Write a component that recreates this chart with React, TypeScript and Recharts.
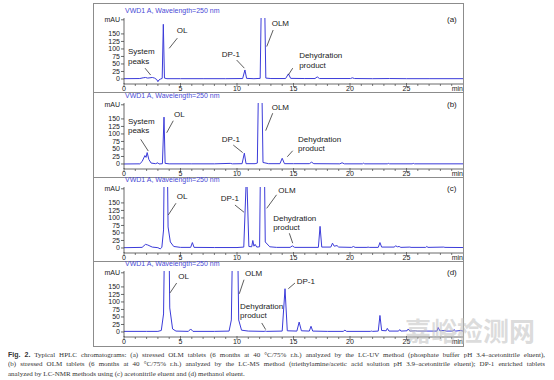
import React from 'react';
import { LineChart, Line, XAxis, YAxis, ReferenceLine, ReferenceDot } from 'recharts';

// ---- data: [retention time (min), signal (mAU)] ----
const traceA: [number, number][] = [
  [0, 1], [1.4, 1.5], [1.7, 4], [1.9, 5], [2.1, 3], [2.3, 4], [2.5, 5], [2.7, 3], [2.9, -2], [3.0, -9], [3.1, -3],
  [3.25, 0], [3.38, 2], [3.48, 182], [3.58, 3], [3.8, 1], [5, 1], [7, 1], [9, 1], [10.5, 1.5], [10.7, 30], [10.85, 2],
  [11.5, 1], [12.05, 2], [12.3, 620], [12.55, 3], [13, 1.5], [14.3, 1.5], [14.55, 17], [14.75, 2], [16, 1.5],
  [16.9, 1.5], [17.1, 7], [17.3, 1.5], [20.05, 1.5], [20.2, 4], [20.4, 1.5], [22, 1], [23.5, 1.5], [25, 1], [27, 1], [30, 1],
];
const traceB: [number, number][] = [
  [0, 0], [1.4, 0.5], [1.6, 8], [1.85, 28], [1.95, 22], [2.05, 38], [2.2, 15], [2.4, 3], [2.8, 1], [3.0, 4], [3.1, 0],
  [3.4, 1], [3.54, 156], [3.64, 2], [4, 0.5], [6, 0.5], [8, 0.5], [9.4, 2], [9.6, 0.5], [10.45, 1], [10.65, 36],
  [10.8, 1], [11.6, 1], [11.8, 3], [12.05, 650], [12.3, 5], [12.8, 1], [13.8, 1], [14.0, 19], [14.2, 1], [15, 1],
  [16.4, 1], [16.6, 6], [16.8, 1], [19.1, 0.5], [19.3, 4], [19.5, 0.5], [21.1, 0.5], [21.2, 2.5], [21.3, 0.5],
  [23.3, 0.5], [23.4, 2], [23.5, 0.5], [25.5, 0.5], [25.6, 2], [25.7, 0.5], [30, 0.5],
];
const traceC: [number, number][] = [
  [0, 1], [1.6, 2], [1.9, 12], [2.1, 10], [2.5, 3], [3.0, 1], [3.2, -3], [3.35, 2], [3.5, 60], [3.7, 800], [3.9, 70],
  [4.1, 20], [4.4, 5], [5, 2], [5.9, 2], [6.05, 18], [6.2, 2], [8, 1.5], [10, 1.5], [10.6, 3], [10.85, 260], [11.05, 5],
  [11.3, 4], [11.4, 25], [11.5, 6], [11.6, 12], [11.75, 3], [12.0, 4], [12.25, 900], [12.5, 20], [12.9, 4], [13.5, 2],
  [14.7, 2], [14.9, 7], [15.1, 2], [17.2, 2], [17.35, 72], [17.5, 3], [18.3, 3], [18.45, 16], [18.6, 6], [18.85, 8],
  [19.0, 3], [20.15, 2], [20.3, 5], [20.45, 2], [21.5, 2], [21.6, 3], [21.7, 2], [22.5, 2], [22.65, 18], [22.8, 3],
  [23.9, 3], [24.05, 7], [24.2, 4], [24.35, 5], [24.5, 2], [25.3, 3], [25.4, 2], [26.7, 2], [26.8, 5], [26.9, 2],
  [28.3, 3], [28.4, 2], [30, 1.5],
];
const traceD: [number, number][] = [
  [0, 2], [2, 2], [3.0, 2], [3.3, 5], [3.5, 60], [3.8, 900], [4.05, 80], [4.3, 10], [4.6, 3], [5.7, 2], [5.9, 10],
  [6.1, 2], [8, 2], [9.3, 3], [9.5, 40], [9.85, 900], [10.15, 40], [10.4, 6], [11, 3], [12.4, 2], [12.5, 3], [12.6, 2],
  [14.0, 3], [14.25, 144], [14.45, 4], [15.3, 3], [15.5, 33], [15.7, 4], [16.4, 3], [16.55, 19], [16.7, 3], [18, 2],
  [19.4, 2], [19.55, 6], [19.7, 2], [21.8, 2], [21.9, 3], [22, 2], [22.5, 3], [22.65, 55], [22.8, 5], [23.2, 4],
  [23.3, 12], [23.45, 3], [24.3, 3], [24.4, 8], [24.5, 3], [25.05, 4], [25.15, 10], [25.3, 3], [25.8, 4], [25.95, 3],
  [27.7, 3], [27.8, 15], [27.95, 4], [28.4, 5], [28.5, 3], [29.1, 3], [29.2, 8], [29.35, 3], [29.8, 5], [30, 3],
];

const xTicks = [0,1,2,3,4,5,6,7,8,9,10,11,12,13,14,15,16,17,18,19,20,21,22,23,24,25,26,27,28,29,30];
const yTicks = [0, 25, 50, 75, 100, 125, 150, 197];
const panelLetters = ['(a)', '(b)', '(c)', '(d)'];
const detectorTitle = 'VWD1 A, Wavelength=250 nm';

// annotation texts: [text, t, mAU]
const textsA: [string, number, number][] = [
  ['System', 0.35, 91], ['peaks', 0.35, 60], ['OL', 4.66, 163], ['DP-1', 8.65, 82], ['OLM', 13.07, 186],
  ['Dehydration', 15.5, 80], ['product', 15.5, 47],
];
const textsB: [string, number, number][] = [
  ['System', 0.35, 141], ['peaks', 0.35, 111], ['OL', 4.42, 167], ['DP-1', 8.65, 82], ['OLM', 13.07, 189],
  ['Dehydration', 15.4, 82], ['product', 15.4, 52],
];
const textsC: [string, number, number][] = [
  ['OL', 4.66, 171], ['DP-1', 8.56, 166], ['OLM', 13.65, 193], ['Dehydration', 13.2, 99], ['product', 13.2, 69],
];
const textsD: [string, number, number][] = [
  ['OL', 4.8, 186], ['OLM', 10.7, 197], ['DP-1', 15.28, 169], ['Dehydration', 10.27, 86], ['product', 10.27, 56],
];
// leader lines: [t1, v1, t2, v2]
const leadersA: [number, number, number, number][] = [
  [1.86, 36, 2.36, 13], [4.72, 136, 4.0, 102], [9.97, 63, 10.65, 36], [13.2, 163, 12.63, 108], [14.93, 36, 14.54, 13],
];
const leadersB: [number, number, number, number][] = [
  [1.48, 82, 2.15, 43], [4.36, 144, 3.78, 104], [9.67, 63, 10.5, 38], [13.16, 169, 12.54, 111], [14.93, 44, 14.45, 24],
];
const leadersC: [number, number, number, number][] = [
  [4.6, 149, 3.92, 110], [9.82, 143, 10.62, 119], [13.5, 177, 12.63, 132], [14.63, 49, 14.93, 16],
];
const leadersD: [number, number, number, number][] = [
  [4.66, 163, 4.07, 130], [10.62, 174, 10.2, 127], [15.13, 163, 14.54, 144], [12.19, 30, 12.54, 8],
];

const panels = [
  { trace: traceA, texts: textsA, leaders: leadersA },
  { trace: traceB, texts: textsB, leaders: leadersB },
  { trace: traceC, texts: textsC, leaders: leadersC },
  { trace: traceD, texts: textsD, leaders: leadersD },
];
const panelTops = [3, 88, 172, 256];

const AXIS = '#444';
const LINE = '#3b3bd9';
const SANS = '"Liberation Sans", Arial, sans-serif';

const XTick = (props: any) => {
  const { x, y, payload } = props;
  const v = payload.value;
  const major = v % 5 === 0;
  let label = '';
  if (v === 30) label = 'min';
  else if (major) label = String(v);
  return (
    <g>
      {v !== 30 && <line x1={x} y1={y - (major ? 1 : 0)} x2={x} y2={y + (major ? 3 : 2)} stroke={AXIS} strokeWidth={0.7} />}
      {label && (
        <text x={x} y={y + 7.2} textAnchor={v === 30 ? 'end' : 'middle'} fontSize={7} fill="#222" fontFamily={SANS}>
          {label}
        </text>
      )}
    </g>
  );
};

function Panel({ idx }: { idx: number }) {
  const p = panels[idx];
  const data = p.trace.map(([t, v]) => ({ t, v }));
  return (
    <LineChart
      width={554}
      height={90}
      data={data}
      margin={{ top: 15, right: 91, bottom: 0, left: 94 }}
      style={{ position: 'absolute', left: 0, top: panelTops[idx] }}
    >
      <XAxis
        dataKey="t"
        type="number"
        domain={[0, 30]}
        ticks={xTicks}
        interval={0}
        tick={<XTick />}
        tickLine={false}
        tickSize={0}
        tickMargin={0}
        height={9}
        stroke={AXIS}
        strokeWidth={0.8}
        allowDataOverflow
      />
      <YAxis
        type="number"
        domain={[-16.7, 203]}
        ticks={yTicks}
        interval={0}
        allowDataOverflow
        width={30}
        tickSize={3}
        tickMargin={1}
        stroke={AXIS}
        strokeWidth={0.8}
        tick={{ fontSize: 7, fill: '#222', fontFamily: SANS }}
        tickFormatter={(v: number) => (v === 197 ? 'mAU' : String(v))}
      />
      <Line
        type="linear"
        dataKey="v"
        stroke={LINE}
        strokeWidth={1}
        dot={false}
        isAnimationActive={false}
      />
      {p.leaders.map(([t1, v1, t2, v2], i) => (
        <ReferenceLine
          key={'l' + i}
          segment={[{ x: t1, y: v1 }, { x: t2, y: v2 }]}
          stroke="#333"
          strokeWidth={0.8}
        />
      ))}
      {p.texts.map(([txt, t, v], i) => (
        <ReferenceDot
          key={'t' + i}
          x={t}
          y={v}
          r={0}
          fill="none"
          stroke="none"
          label={{ value: txt, position: 'right', offset: 0, fontSize: 8, fill: '#222', fontFamily: SANS }}
        />
      ))}
    </LineChart>
  );
}

export default function App() {
  return (
    <div style={{ position: 'absolute', left: 0, top: 0, width: 554, height: 380, background: '#fff', overflow: 'hidden' }}>
      {/* frame */}
      <div style={{ position: 'absolute', left: 93, top: 3, width: 369, height: 342, border: '1px solid #8c8c8c' }} />
      {[92, 177, 261].map((y) => (
        <div key={y} style={{ position: 'absolute', left: 93, top: y, width: 371, height: 1, background: '#8c8c8c' }} />
      ))}
      {panelTops.map((top, i) => (
        <React.Fragment key={i}>
          <div style={{ position: 'absolute', left: 125, top: top + 4, fontSize: 7, lineHeight: '8px', color: '#4a4ad6', fontFamily: SANS, whiteSpace: 'nowrap' }}>
            {detectorTitle}
          </div>
          <div style={{ position: 'absolute', left: 447, top: top + 12, fontSize: 8, lineHeight: '10px', color: '#222', fontFamily: SANS }}>
            {panelLetters[i]}
          </div>
        </React.Fragment>
      ))}
      {[0, 1, 2, 3].map((i) => (
        <Panel key={i} idx={i} />
      ))}
      <div style={{ position: 'absolute', left: 405, top: 315, fontSize: 26, lineHeight: '30px', color: 'rgba(190,190,190,0.55)', fontFamily: '"Noto Sans CJK SC", sans-serif', fontWeight: 700, whiteSpace: 'nowrap', pointerEvents: 'none' }}>
        嘉峪检测网
      </div>
      <div style={{ position: 'absolute', left: 8, top: 350, width: 537, fontFamily: '"Liberation Serif", serif', fontSize: 7, lineHeight: '9.4px', color: '#333' }}>
        <div style={{ textAlign: 'justify', textAlignLast: 'justify', whiteSpace: 'nowrap', overflow: 'hidden' }}>
          <b style={{ fontFamily: SANS }}>Fig. 2.</b> Typical HPLC chromatograms: (a) stressed OLM tablets (6 months at 40 °C/75% r.h.) analyzed by the LC-UV method (phosphate buffer pH 3.4–acetonitrile eluent),
        </div>
        <div style={{ textAlign: 'justify', textAlignLast: 'justify', whiteSpace: 'nowrap', overflow: 'hidden' }}>
          (b) stressed OLM tablets (6 months at 40 °C/75% r.h.) analyzed by the LC-MS method (triethylamine/acetic acid solution pH 3.9–acetonitrile eluent); DP-1 enriched tablets
        </div>
        <div style={{ whiteSpace: 'nowrap' }}>
          analyzed by LC-NMR methods using (c) acetonitrile eluent and (d) methanol eluent.
        </div>
      </div>
    </div>
  );
}
